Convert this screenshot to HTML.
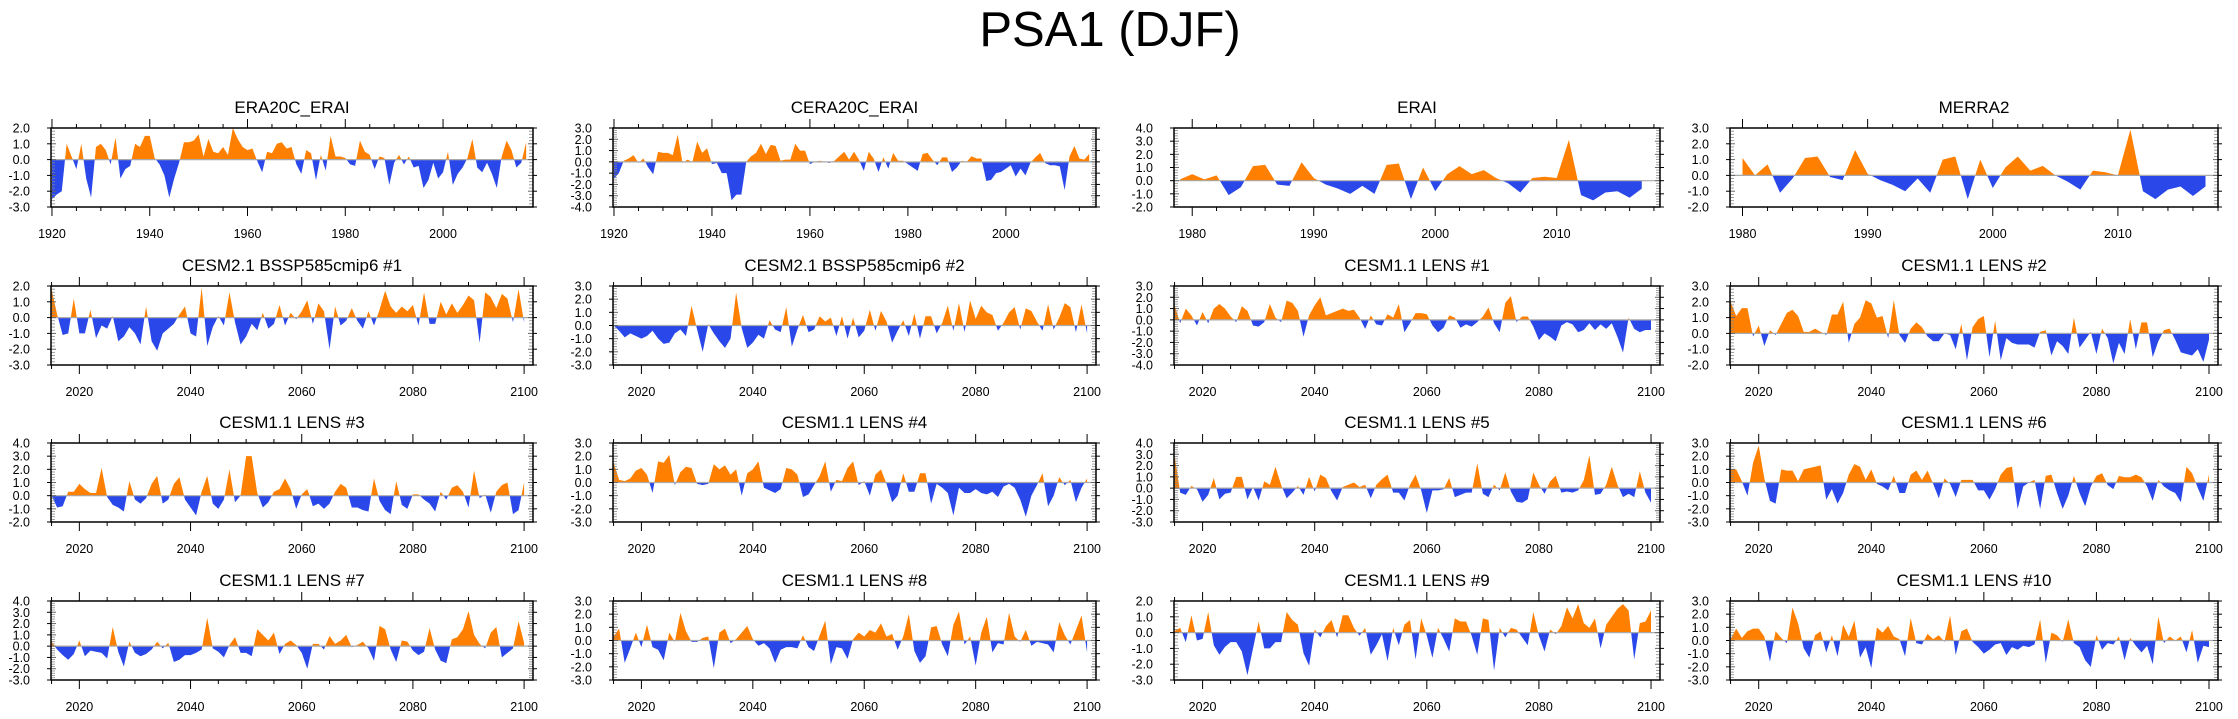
<!DOCTYPE html>
<html><head><meta charset="utf-8">
<style>
html,body{margin:0;padding:0;background:#fff;}
svg{display:block;font-family:"Liberation Sans",Arial,sans-serif;}
</style></head>
<body>
<svg id="fig" width="2238" height="719" viewBox="0 0 2238 719" xmlns="http://www.w3.org/2000/svg">
<rect x="0" y="0" width="2238" height="719" fill="#fff"/>
<text x="1110" y="46" font-size="49" text-anchor="middle" fill="#000">PSA1 (DJF)</text>
</svg>
<script>
const era20c = [-2.5,-2.2,-2.0,1.0,0.2,-0.6,1.0,-1.2,-2.4,0.8,1.0,0.6,-0.3,1.4,-1.2,-0.6,-0.4,1.0,0.8,1.5,1.5,0.1,-0.3,-1.0,-2.4,-1.2,-0.2,1.1,1.1,1.2,1.6,0.2,1.3,0.5,0.4,0.8,0.3,2.0,1.3,0.8,0.6,0.7,-0.1,-0.8,0.5,0.4,1.0,1.1,0.7,0.8,-0.3,-0.9,0.6,0.4,-1.3,0.3,-0.7,1.5,0.2,0.2,0.1,-0.3,-0.4,1.2,0.5,0.3,-0.6,0.2,0.1,-1.6,-0.2,0.3,-0.3,0.2,-0.5,-0.4,-1.8,-1.3,-0.2,-1.2,-0.8,0.5,-1.6,-0.9,-0.5,0.1,1.3,-0.5,-0.8,-0.2,-0.9,-1.8,0.2,1.2,0.6,-0.5,-0.2,1.1];
const cera20c = [-1.5,-1.0,0.1,0.3,0.6,-0.1,0.3,-0.5,-1.1,0.9,0.8,0.8,0.6,2.4,-0.1,0.2,0.0,1.8,0.8,1.2,-0.2,-0.1,-1.0,-1.0,-3.4,-2.9,-2.9,0.0,0.5,0.8,1.6,0.7,1.5,1.4,0.1,0.2,0.2,1.6,1.0,1.0,-0.2,0.0,0.1,0.0,-0.1,0.1,0.5,0.9,0.2,0.9,0.2,-0.8,0.9,0.3,-0.9,0.4,-0.6,0.8,0.1,0.1,-0.2,-0.5,-0.8,0.7,0.8,0.2,-0.3,0.4,0.4,-0.9,-0.5,0.1,0.0,0.5,0.3,0.3,-1.7,-1.6,-1.0,-0.9,-0.6,-0.3,-1.3,-0.6,-1.2,-0.1,0.4,0.8,-0.1,-0.3,-0.3,-0.4,-2.5,0.5,1.4,0.3,0.2,0.7];
const erai = [0.1,0.5,0.1,0.4,-1.1,-0.5,1.1,1.2,-0.3,-0.4,1.4,0.2,-0.3,-0.6,-1.0,-0.4,-1.0,1.2,1.3,-1.4,1.0,-0.8,0.5,1.1,0.5,0.8,0.2,-0.2,-0.9,0.2,0.3,0.2,3.1,-1.1,-1.5,-0.9,-0.8,-1.3,-0.6];
const merra2 = [1.1,0.0,0.7,-1.1,-0.2,1.1,1.2,-0.1,-0.3,1.6,0.1,-0.3,-0.6,-1.0,-0.2,-1.1,1.0,1.2,-1.5,1.0,-0.8,0.5,1.2,0.3,0.6,0.0,-0.4,-0.9,0.3,0.2,0.0,2.9,-1.0,-1.5,-0.9,-0.7,-1.3,-0.7];
const cesm2a = [1.8,0.2,-1.1,-1.0,1.2,-1.0,-1.0,0.5,-1.3,-0.5,-0.7,0.1,-1.5,-1.2,-0.6,-1.0,-1.7,0.7,-1.5,-2.1,-1.0,-0.7,-0.4,0.2,0.7,-1.0,-1.2,1.9,-1.8,-0.6,0.1,-0.5,1.6,-0.3,-1.7,-1.2,-0.4,-0.8,0.3,-0.7,-0.4,0.8,-0.5,0.3,-0.1,0.4,1.1,-0.4,0.9,0.4,-2.0,0.7,-0.5,-0.2,0.6,-0.2,-0.7,0.4,-0.5,0.5,1.7,0.7,0.3,0.7,0.4,0.8,-0.5,1.6,-0.4,-0.4,1.0,0.2,0.9,0.3,0.8,1.4,1.1,-1.6,1.6,1.3,0.6,1.5,1.2,-0.3,1.8,-0.3];
const cesm2b = [0.0,-0.4,-0.9,-0.6,-0.8,-1.0,-0.8,-0.4,-1.0,-1.4,-1.3,-0.6,-0.3,-0.8,1.5,-0.3,-2.0,0.1,-0.6,-1.2,-1.7,-1.0,2.5,-0.2,-1.7,-1.3,-0.7,-1.0,0.4,-0.3,-0.5,1.4,-1.6,-0.3,0.8,-0.5,-0.3,0.7,0.3,0.6,-0.8,0.7,-1.0,0.6,-0.9,-0.4,1.2,-0.4,1.1,0.3,-1.3,-0.4,0.4,-0.8,0.9,-1.0,0.7,0.7,-0.6,0.2,1.5,-0.4,1.7,-0.5,1.9,0.5,1.5,1.0,0.8,-0.4,0.2,1.0,1.4,-0.3,1.3,1.1,0.3,-0.4,1.6,-0.3,0.6,1.7,1.4,-0.5,1.6,-0.6];
const lens1 = [1.3,-0.3,1.0,0.4,-0.5,0.7,-0.3,1.0,1.4,1.0,0.3,-0.2,1.2,0.8,-0.5,-0.6,-0.2,1.4,0.2,-0.2,1.7,1.5,0.8,-1.5,0.4,1.3,2.0,0.4,0.6,0.8,1.0,0.8,0.9,0.2,-0.8,0.4,-0.4,-0.5,0.5,0.2,1.4,-1.1,-0.3,0.6,0.6,0.5,-0.5,-1.1,-0.7,0.4,0.2,-0.7,-0.4,-0.6,-0.2,0.3,1.1,-0.3,-1.1,1.5,2.1,-0.2,0.3,0.3,-0.6,-1.8,-1.2,-1.5,-1.9,-0.5,-0.2,-0.4,-1.1,-0.9,-0.3,-0.9,-0.4,-0.8,-0.3,-1.5,-2.9,0.2,-0.8,-1.1,-0.9,-0.9];
const lens2 = [2.0,1.1,1.6,1.6,-0.2,0.5,-0.8,0.2,-0.1,0.6,1.3,1.5,1.1,0.1,0.1,0.3,0.1,-0.1,1.2,1.2,2.0,-0.6,0.6,1.0,2.1,1.9,1.0,1.1,-0.3,2.1,-0.1,-0.6,0.3,0.7,0.4,-0.2,-0.5,-0.5,0.0,-0.1,-1.0,0.6,-1.7,0.4,0.9,1.1,-1.5,0.8,-1.7,-0.3,-0.6,-0.7,-0.7,-0.7,-0.9,0.1,0.2,-1.4,-0.5,-0.8,-1.3,1.0,-0.9,-0.4,0.1,-1.3,0.3,-0.3,-1.9,-0.6,-1.3,0.9,-1.0,0.7,0.7,-1.5,-0.5,0.2,0.3,-0.4,-1.2,-1.3,-1.4,-1.0,-1.8,-0.4];
const lens3 = [0.0,-0.9,-0.8,0.3,0.3,0.9,0.5,0.2,0.2,2.1,-0.1,-0.7,-0.9,-1.2,1.1,-0.3,-0.6,-0.2,0.9,1.5,-0.6,-0.3,0.9,1.4,-0.3,-0.9,-1.5,0.3,1.5,-0.6,-1.0,-0.3,2.0,-0.5,0.0,3.0,3.0,0.2,-0.9,-0.5,0.3,0.5,1.3,0.5,-1.0,0.1,0.5,-0.8,-0.6,-1.0,-0.6,0.3,0.9,0.6,-0.9,-0.9,-1.1,-1.2,1.3,-0.4,-1.1,-1.4,1.1,-0.7,-1.0,0.1,0.1,-0.3,-0.6,-1.2,0.3,-0.3,0.6,0.8,0.3,-0.9,1.9,-0.2,0.1,-1.3,0.3,0.8,1.0,-1.4,-1.1,1.0];
const lens4 = [1.5,0.2,0.1,0.3,0.9,1.1,0.6,-0.8,1.6,1.5,2.1,-0.2,0.8,1.2,1.1,-0.1,-0.2,-0.1,1.4,1.0,1.3,0.6,1.0,-1.0,0.7,1.0,1.6,-0.4,-0.6,-0.8,-0.5,1.1,1.0,0.6,-1.1,-0.9,-0.2,0.5,1.6,-0.7,0.2,0.1,1.1,1.6,-0.2,0.1,-1.0,0.6,1.0,-0.1,-1.5,-1.0,0.7,-0.7,-0.7,0.7,0.7,-1.6,-0.1,-0.4,-0.8,-2.5,-0.4,-0.8,-0.8,-0.5,-0.8,-0.9,-0.7,-1.1,-0.3,-0.1,-0.4,-1.3,-2.6,-1.0,-0.2,0.7,-1.8,-1.0,0.4,-0.2,0.2,-1.5,-0.4,0.3];
const lens5 = [2.9,-0.4,-0.6,0.2,-0.1,-1.2,-0.6,0.9,-1.0,-0.5,-0.4,1.0,1.0,-1.0,0.1,-1.1,0.6,0.3,1.9,0.3,-0.9,-0.4,0.2,-0.6,1.0,-0.3,1.2,0.9,-0.3,-1.1,0.1,0.3,0.5,0.1,0.3,-0.9,0.3,0.8,1.2,-0.4,-0.4,-1.1,0.3,1.2,-0.2,-2.2,-0.2,-0.2,-0.1,0.9,-0.8,-0.6,-0.4,-0.4,2.2,-0.5,-0.8,0.3,-0.2,1.4,-0.3,-1.2,-1.3,-1.0,1.4,0.3,-0.5,0.6,1.1,-0.4,-0.3,-0.4,-0.2,0.7,2.9,-0.6,-0.5,0.3,1.9,0.3,-0.8,-0.5,-0.8,1.5,-0.4,-1.3];
const lens6 = [1.0,1.0,0.1,-1.0,1.5,2.8,0.3,-1.4,-1.6,1.0,0.9,0.9,0.1,1.0,1.1,1.2,1.3,-1.3,-0.5,-1.6,-0.8,0.6,1.4,1.2,0.2,1.0,-0.1,-0.3,-0.6,0.5,-0.8,-0.8,0.6,0.9,0.2,0.9,-0.1,-1.2,0.3,-0.1,-1.1,0.2,0.2,0.2,-0.6,-0.6,-1.3,-0.5,0.6,1.1,1.2,-2.0,-0.3,0.0,0.2,-2.0,0.5,0.6,-0.8,-2.0,-1.0,0.5,-0.8,-1.8,-0.3,0.5,0.7,-0.2,-0.5,0.5,0.4,0.4,0.6,0.4,-0.3,-1.4,0.2,-0.3,-0.6,-0.8,-1.5,1.2,0.7,-0.4,-1.4,0.6];
const lens7 = [0.4,-0.3,-0.8,-1.2,-0.7,0.5,-0.9,-0.4,-0.5,-0.6,-1.1,1.7,-0.5,-1.8,0.4,-0.6,-0.9,-0.7,-0.3,0.4,-0.2,0.3,-1.4,-1.2,-0.8,-0.8,-0.6,-0.3,2.5,-0.2,-0.5,-1.0,0.1,0.8,-0.6,-0.6,-0.9,1.5,1.0,0.5,1.2,-0.7,0.2,0.5,0.1,-0.6,-2.0,0.2,0.2,-0.3,0.9,0.2,0.5,1.0,-0.1,0.1,0.4,-0.2,-1.3,1.8,1.5,-0.3,-1.4,0.5,0.4,-0.4,-0.8,-0.5,1.6,-0.3,-1.3,-1.5,0.6,0.8,1.5,3.1,1.0,0.2,-0.2,1.2,1.7,-1.0,-0.6,-0.2,2.2,0.3];
const lens8 = [0.3,0.9,-1.7,-0.6,0.6,-0.5,1.2,-0.5,-0.7,-1.5,0.6,-0.1,2.1,0.7,-0.1,-0.1,0.2,0.3,-2.1,0.6,0.9,-0.2,0.1,0.6,1.1,0.1,-0.4,-0.2,-0.6,-1.7,-0.7,-0.5,-0.5,-0.6,0.4,-0.5,-0.8,0.4,1.5,-1.8,-0.5,-0.6,-1.4,0.1,0.6,0.3,0.8,0.6,1.3,0.3,0.5,-0.7,0.3,2.0,-0.8,-1.7,-1.2,1.0,1.1,-0.3,-1.2,1.2,2.2,-0.3,0.3,-1.9,0.6,1.8,-0.9,-0.2,-0.3,2.1,0.3,-0.1,0.8,-0.4,-0.1,-0.2,-0.3,-0.9,1.4,0.4,-0.3,0.8,1.9,-0.9];
const lens9 = [0.1,0.3,-0.6,1.1,-0.5,-0.4,1.3,-0.8,-1.4,-0.9,-0.6,-0.6,-1.2,-2.7,-1.0,0.7,-1.0,-1.0,-0.6,-0.6,1.3,0.8,0.5,-1.3,-2.1,0.2,-0.3,0.4,0.8,-0.3,1.1,1.1,0.3,-0.2,0.3,-1.4,-0.8,-0.1,-1.8,0.3,-0.8,0.5,0.8,-1.7,0.9,-0.2,-1.6,0.3,-0.4,-1.2,0.9,0.7,0.7,-0.2,-1.4,0.9,0.8,-2.4,0.3,-0.3,0.3,0.2,-0.3,-0.8,1.3,-0.2,-1.2,0.2,-0.1,0.4,1.6,0.9,1.8,0.6,0.3,0.9,-1.0,0.5,1.0,1.5,1.8,1.4,-1.7,0.6,0.7,1.4];
const lens10 = [0.1,0.9,0.2,0.7,0.9,0.9,0.3,-1.6,0.7,0.2,-0.2,2.5,1.3,-0.6,-1.3,0.4,0.7,-0.9,0.4,-1.2,1.2,0.3,1.5,-1.3,-0.5,-2.1,1.0,0.6,1.1,0.3,0.1,-1.2,1.7,-0.2,-0.3,0.5,0.1,0.4,-0.1,1.9,-1.1,0.7,0.9,-0.1,-0.5,-1.0,-0.7,-0.3,-0.2,-1.1,-0.5,-0.7,-0.4,-0.5,-0.3,1.6,-1.7,0.6,0.4,-0.1,1.6,-0.2,-0.5,-1.5,-2.0,0.4,-0.7,-0.2,-0.3,0.3,-1.5,0.2,-0.4,-0.9,-0.4,-1.8,1.8,-0.2,0.3,0.0,0.3,-0.9,0.8,-1.7,-0.4,-0.5];

const panelTitles = ["ERA20C_ERAI","CERA20C_ERAI","ERAI","MERRA2","CESM2.1 BSSP585cmip6 #1","CESM2.1 BSSP585cmip6 #2","CESM1.1 LENS #1","CESM1.1 LENS #2","CESM1.1 LENS #3","CESM1.1 LENS #4","CESM1.1 LENS #5","CESM1.1 LENS #6","CESM1.1 LENS #7","CESM1.1 LENS #8","CESM1.1 LENS #9","CESM1.1 LENS #10"];
const panelSeries = [era20c,cera20c,erai,merra2,cesm2a,cesm2b,lens1,lens2,lens3,lens4,lens5,lens6,lens7,lens8,lens9,lens10];
const startYears = [1920,1920,1979,1980,2015,2015,2015,2015,2015,2015,2015,2015,2015,2015,2015,2015];
const yMins = [-3,-4,-2,-2,-3,-3,-4,-2,-2,-3,-3,-3,-3,-3,-3,-3];
const yMaxs = [2,3,4,3,2,3,3,3,4,3,4,3,4,3,2,3];

const svg = document.getElementById('fig');
const NS = 'http://www.w3.org/2000/svg';
const colX = [51, 613, 1174, 1730];
const colW = [482, 483, 486, 488];
const rowY = [128, 286, 443, 601];
const PH = 79;
function mk(tag, attrs, parent){
  const e = document.createElementNS(NS, tag);
  for (const k in attrs) e.setAttribute(k, attrs[k]);
  (parent||svg).appendChild(e);
  return e;
}
function fmt(v){ return v.toFixed(1); }

for (let p = 0; p < 16; p++) {
  const data = panelSeries[p];
  const y0yr = startYears[p];
  const lastYr = y0yr + data.length - 1;
  let dMin, dMax, majorStep, minorStep;
  if (p === 2) { dMin = 1978.5; dMax = 2018.5; majorStep = 10; minorStep = 2; }
  else if (p === 3) { dMin = 1979.0; dMax = 2018.0; majorStep = 10; minorStep = 2; }
  else if (p < 2) { dMin = 1919.8; dMax = 2018.4; majorStep = 20; minorStep = 5; }
  else { dMin = 2014.9; dMax = 2101.6; majorStep = 20; minorStep = 5; }
  const PW = colW[p % 4];
  const L = colX[p % 4], T = rowY[Math.floor(p / 4)];
  const R = L + PW, B = T + PH;
  const ymin = yMins[p], ymax = yMaxs[p];
  const xs = yr => L + (yr - dMin) / (dMax - dMin) * PW;
  const ys = v => B - (v - ymin) / (ymax - ymin) * PH;

  const g = mk('g', {});
  
  

  const t = mk('text', {x: (L + R) / 2, y: T - 15, 'font-size': 17, 'text-anchor': 'middle', fill: '#000'}, g);
  
  
  t.textContent = panelTitles[p];

  const zy = ys(0);
  let d = 'M' + xs(y0yr) + ',' + zy;
  data.forEach((v, i) => { d += ' L' + xs(y0yr + i).toFixed(2) + ',' + ys(v).toFixed(2); });
  d += ' L' + xs(lastYr) + ',' + zy + ' Z';
  const cidU = 'cu' + p, cidD = 'cd' + p;
  const defs = mk('defs', {}, g);
  const cu = mk('clipPath', {id: cidU}, defs);
  mk('rect', {x: L, y: T, width: PW, height: zy - T}, cu);
  const cd = mk('clipPath', {id: cidD}, defs);
  mk('rect', {x: L, y: zy, width: PW, height: B - zy}, cd);
  const pos = mk('path', {d: d, fill: '#ff8000', 'clip-path': 'url(#' + cidU + ')'}, g);
  
  
  const neg = mk('path', {d: d, fill: '#2a48ea', 'clip-path': 'url(#' + cidD + ')'}, g);
  
  
  const zl = mk('line', {x1: L, x2: R, y1: zy, y2: zy, stroke: '#aaaaaa', 'stroke-width': 1.2}, g);
  
  

  for (let k = 0; k <= Math.round((ymax - ymin) * 5); k++) {
    const v = ymin + k * 0.2;
    const yy = ys(v);
    const isMajor = k % 5 === 0;
    if (isMajor) {
      mk('line', {x1: L - 4, x2: L, y1: yy, y2: yy, stroke: '#000', 'stroke-width': 1}, g);
      mk('line', {x1: R, x2: R + 4, y1: yy, y2: yy, stroke: '#000', 'stroke-width': 1}, g);
      mk('line', {x1: L, x2: L + 5, y1: yy, y2: yy, stroke: '#666', 'stroke-width': 1}, g);
      mk('line', {x1: R - 5, x2: R, y1: yy, y2: yy, stroke: '#666', 'stroke-width': 1}, g);
      const lb = mk('text', {x: L - 21, y: yy + 4.5, 'font-size': 12.5, 'text-anchor': 'end', fill: '#000'}, g);
      
      
      lb.textContent = fmt(v);
    } else {
      mk('line', {x1: L, x2: L + 4, y1: yy, y2: yy, stroke: '#888', 'stroke-width': 0.8}, g);
      mk('line', {x1: R - 4, x2: R, y1: yy, y2: yy, stroke: '#888', 'stroke-width': 0.8}, g);
    }
  }
  const first = Math.ceil(dMin / minorStep) * minorStep;
  for (let yr = first; yr <= dMax; yr += minorStep) {
    const xx = xs(yr);
    const isMajor = yr % majorStep === 0;
    const len = isMajor ? 9 : 4;
    mk('line', {x1: xx, x2: xx, y1: T - len, y2: T, stroke: '#000', 'stroke-width': 1}, g);
    mk('line', {x1: xx, x2: xx, y1: B, y2: B + len, stroke: '#000', 'stroke-width': 1}, g);
    if (isMajor) {
      const lb = mk('text', {x: xx, y: B + 31, 'font-size': 12.5, 'text-anchor': 'middle', fill: '#000'}, g);
      
      
      lb.textContent = yr;
    }
  }
  const fr = mk('rect', {x: L, y: T, width: PW, height: PH, fill: 'none', stroke: '#000', 'stroke-width': 1.5}, g);
  
  
}
</script>
</body></html>
